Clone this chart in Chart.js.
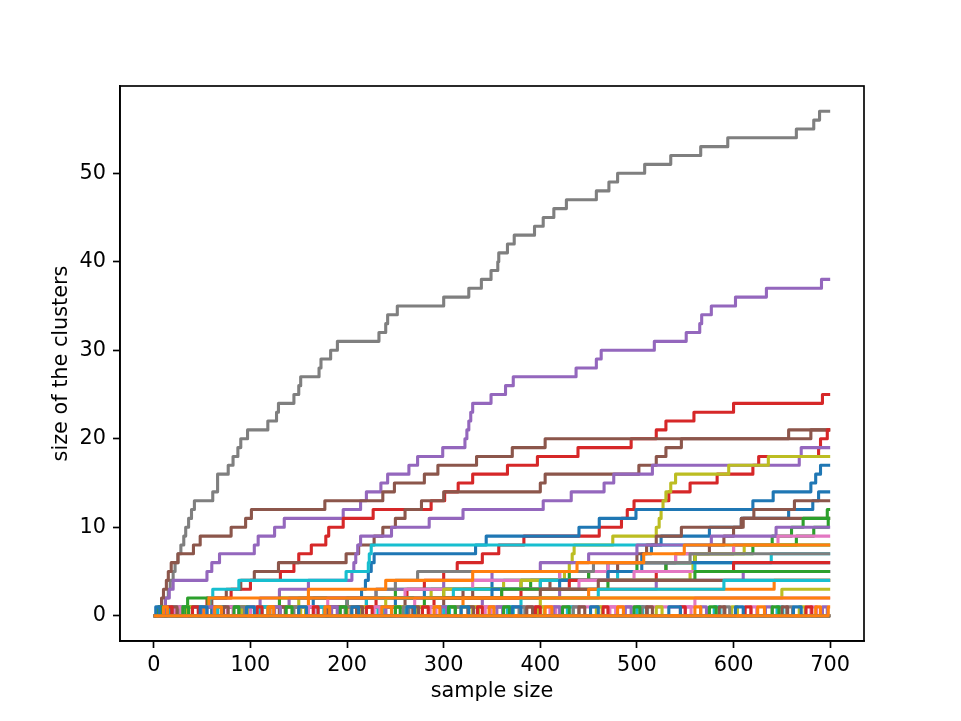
<!DOCTYPE html>
<html>
<head>
<meta charset="utf-8">
<script src="https://cdn.jsdelivr.net/npm/chart.js@4.4.1/dist/chart.umd.min.js"></script>
<style>
  html, body { margin: 0; padding: 0; background: #fff; }
  #wrap { width: 961px; height: 721px; }
</style>
</head>
<body>
<div id="wrap"><canvas id="chart" width="961" height="721"></canvas></div>
<script>
// Cluster growth: each series is a list of [sample size, cluster size] change points
const X_TICKS = [0, 100, 200, 300, 400, 500, 600, 700];
const Y_TICKS = [0, 10, 20, 30, 40, 50];
const LAST_SAMPLE = 700;

// tab10 palette
const C = {
  blue: '#1f77b4', orange: '#ff7f0e', green: '#2ca02c', red: '#d62728', purple: '#9467bd',
  brown: '#8c564b', pink: '#e377c2', gray: '#7f7f7f', olive: '#bcbd22', cyan: '#17becf',
};

// ─── Large clusters ─────────────────────────────────────────────────────────
const grayBig = [[0,0],[10,1],[12,2],[15,3],[17,4],[20,5],[22,6],[25,7],[28,8],[31,9],[33,10],[36,11],[39,12],[42,13],
  [61,14],[66,16],[77,17],[82,18],[87,19],[90,20],[97,21],[118,22],[127,23],[129,24],[145,25],[150,26],[152,27],
  [171,28],[173,29],[183,30],[190,31],[233,32],[240,33],[242,34],[252,35],[300,36],[326,37],[339,38],[349,39],
  [356,40],[357,41],[366,42],[373,43],[394,44],[403,45],[414,46],[427,47],[458,48],[471,49],[480,50],[508,51],
  [535,52],[566,53],[594,54],[665,55],[683,56],[689,57]];
const purpleBig = [[0,0],[8,1],[12,2],[16,3],[20,4],[55,5],[60,6],[68,7],[104,8],[108,9],[125,10],[135,11],[196,12],
  [214,13],[220,14],[235,15],[242,16],[264,17],[273,18],[299,19],[322,20],[324,21],[326,22],[328,23],[330,24],
  [349,25],[364,26],[372,27],[437,28],[458,29],[463,30],[518,31],[551,32],[565,33],[567,34],[577,35],[602,36],
  [634,37],[691,38]];
const redBig = [[0,0],[30,1],[55,2],[80,3],[100,4],[131,5],[145,6],[150,7],[163,8],[178,9],[181,10],[196,11],[227,12],
  [287,13],[301,14],[315,15],[330,16],[366,17],[397,18],[439,19],[494,20],[520,21],[530,22],[559,23],[600,24],[692,25]];
const brownA = [[0,0],[5,1],[8,2],[10,3],[13,4],[15,5],[18,6],[25,7],[41,8],[48,9],[80,10],[95,11],[101,12],[177,13],
  [237,14],[249,15],[280,16],[294,17],[334,18],[371,19],[405,20],[657,21]];
const brownB = [[0,0],[40,1],[60,2],[75,3],[90,4],[104,5],[129,6],[199,7],[212,8],[228,9],[237,10],[250,11],[260,12],
  [277,13],[300,14],[400,15],[405,16],[502,17],[520,18],[530,19],[546,20],[680,21]];
const redB = [[0,0],[150,1],[230,2],[262,3],[280,4],[300,5],[314,6],[340,7],[357,8],[383,9],[461,10],[484,11],[490,12],
  [497,13],[533,14],[555,15],[583,16],[620,17],[626,18],[688,19],[690,20],[697,21]];
const purpleB = [[0,0],[70,1],[110,2],[130,3],[160,4],[205,5],[207,6],[209,7],[211,8],[214,9],[246,10],[285,11],
  [320,12],[403,13],[432,14],[466,15],[476,16],[516,17],[668,18],[670,19]];
const oliveA = [[0,0],[60,1],[150,2],[287,3],[362,4],[425,5],[430,6],[433,7],[435,8],[475,9],[520,10],[523,11],
  [525,12],[527,13],[530,14],[535,15],[540,16],[595,17],[636,18]];
const blueA = [[0,0],[60,1],[165,2],[215,3],[219,4],[222,5],[225,6],[228,7],[333,8],[344,9],[440,10],[461,11],
  [499,12],[620,13],[641,14],[680,15],[685,16],[690,17]];

// ─── Medium clusters ────────────────────────────────────────────────────────
const cyanA = [[0,0],[20,1],[58,2],[61,3],[88,4],[199,5],[222,6],[223,7],[225,8]];
const blueB = [[0,0],[100,1],[200,2],[280,3],[350,4],[420,5],[470,6],[505,7],[515,8],[525,9],[575,10],[608,11],
  [657,12],[682,13],[688,14]];
const brownC = [[0,0],[150,1],[260,2],[330,3],[400,4],[450,5],[480,6],[500,7],[510,8],[520,9],[546,10],[608,11],
  [621,12],[663,13]];
const brownD = [[0,0],[120,1],[220,2],[320,3],[410,4],[470,5],[530,6],[540,7],[575,8],[590,9],[600,10],[610,11]];
const greenA = [[0,0],[33,1],[35,2],[56,1],[130,2],[250,3],[390,4],[430,5],[530,6],[560,7],[600,8],[640,9],
  [660,10],[672,11],[697,12]];
const greenB = [[0,0],[70,1],[200,2],[300,3],[380,4],[450,5],[500,6],[560,7],[620,8],[665,9],[683,10],[698,11]];
const purpleC = [[0,0],[50,1],[140,2],[230,3],[300,4],[350,5],[400,6],[450,7],[500,8],[577,9],[644,10]];
const pinkA = [[0,0],[90,1],[180,2],[260,3],[330,4],[420,5],[470,6],[540,7],[600,8],[646,9]];
const oliveB = [[0,0],[90,1],[240,2],[300,3],[380,4],[555,5],[558,6],[560,7],[611,8]];
const cyanB = [[0,0],[110,1],[220,2],[310,3],[400,4],[480,5],[560,6],[639,7]];
const blueC = [[0,0],[130,1],[250,2],[350,3],[420,4],[470,5],[505,6]];
const grayB = [[0,0],[120,1],[200,2],[230,3],[250,4],[273,5],[455,6],[555,7]];
const orangeC = [[0,0],[120,1],[160,3],[240,4],[330,5],[438,6],[507,7],[549,8]];
const redC = [[0,0],[190,1],[290,2],[380,3],[430,4],[520,5],[600,6]];
const pinkB = [[0,0],[150,1],[270,2],[360,3],[440,4],[497,5]];
const purpleD = [[0,0],[240,1],[340,2],[420,3],[520,4],[610,5]];
const greenC = [[0,0],[210,1],[280,2],[360,3],[470,4],[560,5]];
const brownE = [[0,0],[180,1],[300,2],[400,3],[460,4]];
const orangeA = [[0,0],[200,1],[320,2],[450,3],[642,4]];
const cyanC = [[0,0],[260,1],[380,2],[460,3],[590,4]];
const oliveC = [[0,0],[250,1],[400,2],[650,3]];
const orangeB = [[0,0],[52,1],[57,2]];
const pinkC = [[0,0],[330,1],[560,2]];
const orangeZero = [[0,0],[698,1]];

// ─── Short-lived clusters: [start, end] sample sizes at size 1 ──────────────
const blipBlue = [[2,6],[48,55],[96,104],[150,158],[205,212],[262,270],[318,326],[371,380],[452,460],[533,545],[602,610],[662,670]];
const blipOrange = [[10,14],[63,70],[118,124],[177,182],[236,246],[290,296],[347,352],[405,412],[480,486],[560,566],[625,632],[685,690]];
const blipGreen = [[5,9],[30,36],[83,88],[137,143],[193,199],[250,255],[305,312],[362,368],[423,430],[497,503],[575,582],[640,647]];
const blipRed = [[14,19],[40,46],[107,112],[165,170],[220,226],[278,284],[335,340],[395,400],[465,470],[545,550],[612,618],[675,681]];
const blipPurple = [[7,12],[55,62],[125,131],[184,190],[240,246],[297,303],[355,361],[414,420],[488,494],[566,572],[633,640],[692,697]];
const blipBrown = [[18,24],[72,77],[130,136],[210,216],[268,274],[325,331],[386,392],[440,446],[510,516],[585,591],[650,656]];
const blipPink = [[22,28],[76,82],[100,106],[160,166],[228,234],[286,292],[343,349],[410,416],[472,478],[550,556],[618,624],[680,686]];
const blipGray = [[26,30],[88,94],[145,150],[198,204],[258,264],[312,318],[378,384],[434,440],[505,511],[590,596],[655,661]];
const blipOlive = [[35,40],[92,97],[152,157],[214,220],[272,278],[330,336],[398,404],[458,464],[520,526],[598,604],[668,674]];
const blipCyan = [[12,17],[66,72],[112,118],[170,176],[232,238],[300,306],[366,372],[428,434],[500,506],[580,586],[645,651]];

// ─── Helpers ────────────────────────────────────────────────────────────────

function steps(pts) {
  const out = pts.map(([x, y]) => ({ x, y }));
  out.push({ x: LAST_SAMPLE, y: pts[pts.length - 1][1] });
  return out;
}

function pulses(list) {
  const out = [{ x: 0, y: 0 }];
  list.forEach(([a, b]) => { out.push({ x: a, y: 1 }, { x: b, y: 0 }); });
  out.push({ x: LAST_SAMPLE, y: 0 });
  return out;
}

function line(data, color) {
  return {
    data, borderColor: color, borderWidth: 3.1, stepped: true,
    pointRadius: 0, fill: false, borderJoinStyle: 'round',
  };
}

// first dataset is drawn on top
const datasets = [
  line(steps(orangeZero), C.orange),
  line(pulses(blipBlue), C.blue),
  line(pulses(blipOrange), C.orange),
  line(pulses(blipGreen), C.green),
  line(pulses(blipRed), C.red),
  line(pulses(blipPurple), C.purple),
  line(pulses(blipBrown), C.brown),
  line(pulses(blipPink), C.pink),
  line(pulses(blipGray), C.gray),
  line(pulses(blipOlive), C.olive),
  line(pulses(blipCyan), C.cyan),
  line(steps(orangeB), C.orange),
  line(steps(pinkC), C.pink),
  line(steps(oliveC), C.olive),
  line(steps(cyanC), C.cyan),
  line(steps(orangeA), C.orange),
  line(steps(brownE), C.brown),
  line(steps(greenC), C.green),
  line(steps(purpleD), C.purple),
  line(steps(pinkB), C.pink),
  line(steps(redC), C.red),
  line(steps(orangeC), C.orange),
  line(steps(grayB), C.gray),
  line(steps(blueC), C.blue),
  line(steps(cyanB), C.cyan),
  line(steps(oliveB), C.olive),
  line(steps(pinkA), C.pink),
  line(steps(purpleC), C.purple),
  line(steps(greenB), C.green),
  line(steps(greenA), C.green),
  line(steps(brownD), C.brown),
  line(steps(brownC), C.brown),
  line(steps(blueB), C.blue),
  line(steps(cyanA), C.cyan),
  line(steps(blueA), C.blue),
  line(steps(oliveA), C.olive),
  line(steps(purpleB), C.purple),
  line(steps(redB), C.red),
  line(steps(brownB), C.brown),
  line(steps(brownA), C.brown),
  line(steps(redBig), C.red),
  line(steps(purpleBig), C.purple),
  line(steps(grayBig), C.gray),
];

// Full box around the plot, like matplotlib spines
const frame = {
  id: 'frame',
  afterDatasetsDraw(chart) {
    const { ctx, chartArea: a } = chart;
    ctx.save();
    ctx.strokeStyle = '#000';
    ctx.lineWidth = 1.67;
    ctx.strokeRect(a.left, a.top, a.right - a.left, a.bottom - a.top);
    ctx.restore();
  },
};

const FONT = { family: 'DejaVu Sans', size: 20.8 };

function axisGrid() {
  return { drawOnChartArea: false, drawTicks: true, tickLength: 7, tickWidth: 1.67, tickColor: '#000' };
}

new Chart(document.getElementById('chart'), {
  type: 'line',
  data: { datasets },
  plugins: [frame],
  options: {
    responsive: false,
    animation: false,
    devicePixelRatio: 1,
    layout: { padding: { top: 86, right: 97, left: 0, bottom: 0 } },
    plugins: { legend: { display: false }, tooltip: { enabled: false } },
    scales: {
      x: {
        type: 'linear', min: -35, max: 735,
        grid: axisGrid(),
        border: { display: true, color: '#000', width: 1.67 },
        ticks: { color: '#000', font: FONT, padding: 5, maxRotation: 0 },
        afterBuildTicks: s => { s.ticks = X_TICKS.map(v => ({ value: v })); },
        afterFit: s => { s.height = 80; },
        title: { display: true, text: 'sample size', color: '#000', font: FONT, padding: { top: 0, bottom: 17 } },
      },
      y: {
        type: 'linear', min: -2.85, max: 59.85,
        grid: axisGrid(),
        border: { display: true, color: '#000', width: 1.67 },
        ticks: { color: '#000', font: FONT, padding: 7 },
        afterBuildTicks: s => { s.ticks = Y_TICKS.map(v => ({ value: v })); },
        afterFit: s => { s.width = 120; },
        title: { display: true, text: 'size of the clusters', color: '#000', font: FONT, padding: { top: 49, bottom: 0 } },
      },
    },
  },
});
</script>
</body>
</html>
